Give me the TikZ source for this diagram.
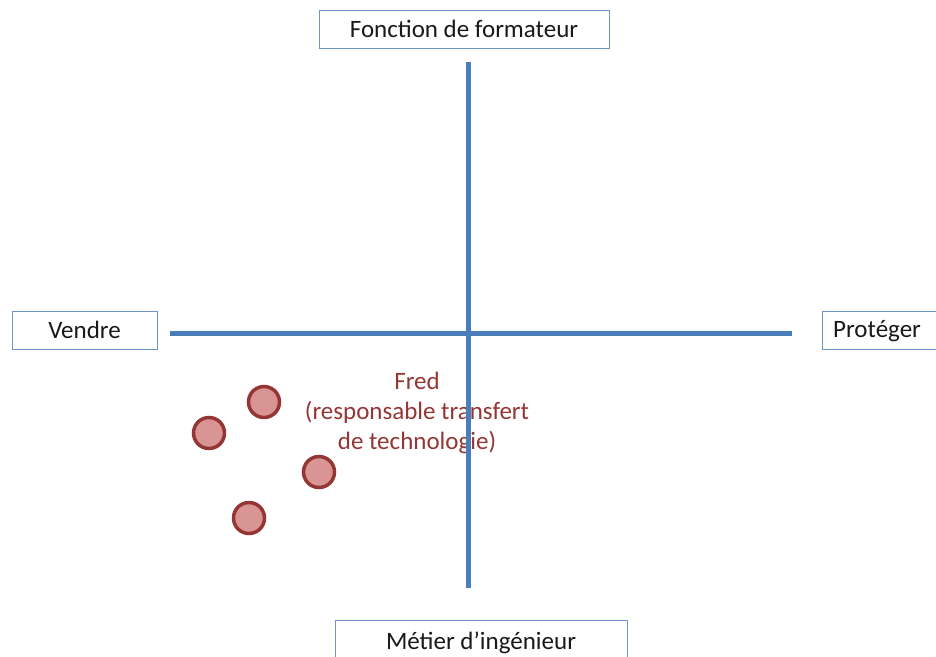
\documentclass[tikz,border=0pt]{standalone}
\usepackage{fontspec}
\setmainfont{Carlito}
\definecolor{axisblue}{HTML}{4A7EBB}
\definecolor{boxblue}{HTML}{6F94CC}
\definecolor{dotfill}{HTML}{D99594}
\definecolor{dotdraw}{HTML}{943634}
\begin{document}
\begin{tikzpicture}[x=1pt,y=-1pt,
  label box/.style={draw=boxblue,line width=1pt,fill=white,font=\fontsize{25}{28}\selectfont,text=black!90,inner sep=0pt},
  axis/.style={draw=axisblue,line width=5pt},
  dot/.style={circle,draw=dotdraw,fill=dotfill,line width=3.5pt,minimum size=31pt,inner sep=0pt},
  fredtext/.style={text=dotdraw,font=\fontsize{25}{30}\selectfont,align=center}]
\useasboundingbox (0,0) rectangle (936,656);
\fill[white] (0,0) rectangle (936,656);
\node[fredtext] (fred) at (417,413) {Fred\\(responsable transfert\\de technologie)};
\coordinate (vtop) at (468,62);
\coordinate (vbot) at (468,588);
\coordinate (hl) at (170,333);
\coordinate (hr) at (792,333);
\draw[axis] (vtop) -- (vbot);
\draw[axis] (hl) -- (hr);
\node[label box,minimum width=290pt,minimum height=38pt] (top) at (464,29) {Fonction de formateur};
\node[label box,minimum width=145pt,minimum height=38pt] (left) at (84.5,330) {Vendre};
\node[label box,minimum width=118pt,minimum height=38pt,anchor=west,text width=96pt,inner xsep=11pt] (right) at (822,330) {};
\node[font=\fontsize{25}{28}\selectfont,text=black!90,anchor=west,inner sep=0pt] (righttext) at (833,331) {Protéger};
\node[label box,minimum width=292pt,minimum height=44pt,anchor=north] (bottom) at (481,620) {\raisebox{3pt}{Métier d’ingénieur}};
\node[dot] (d1) at (264,402) {};
\node[dot] (d2) at (209,433) {};
\node[dot] (d3) at (319,472) {};
\node[dot] (d4) at (249,518) {};
\end{tikzpicture}
\end{document}
